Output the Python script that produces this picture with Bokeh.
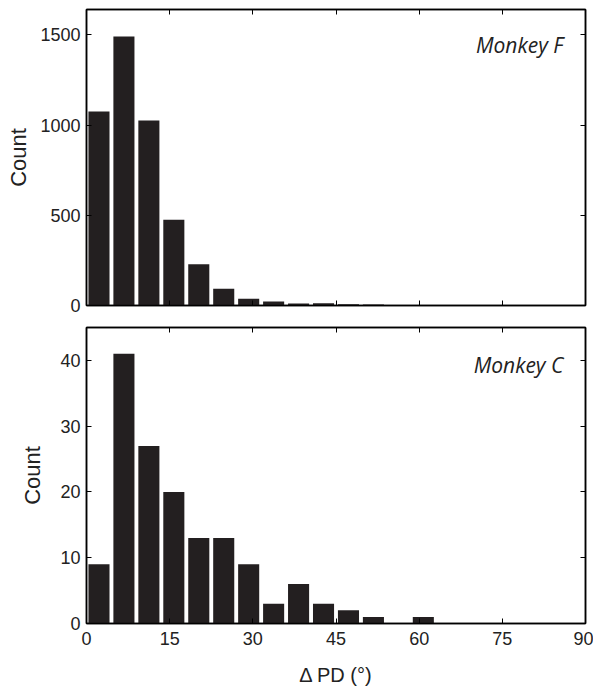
from bokeh.plotting import figure
from bokeh.layouts import column
from bokeh.models import LinearAxis, FixedTicker, Range1d, Label
from bokeh.embed import file_html
from bokeh.resources import INLINE

# Data: 20 bins of 4.5 degrees over 0-90
bin_width = 4.5
bin_centers = [2.25 + i * bin_width for i in range(20)]
monkey_f_counts = [1075, 1490, 1025, 475, 228, 93, 38, 22, 11, 13, 7, 5, 3, 1, 2, 0, 0, 0, 0, 0]
monkey_c_counts = [9, 41, 27, 20, 13, 13, 9, 3, 6, 3, 2, 1, 0, 1, 0, 0, 0, 0, 0, 0]
x_ticks = [0, 15, 30, 45, 60, 75, 90]
f_yticks = [0, 500, 1000, 1500]
c_yticks = [0, 10, 20, 30, 40]

BAR = "#231f20"
FONT = "Liberation Sans"
TXT = "#222222"


def style_axis(ax, ticks, show_labels):
    ax.axis_line_color = "black"
    ax.axis_line_width = 1.5
    ax.major_tick_in = 5
    ax.major_tick_out = 0
    ax.minor_tick_line_color = None
    ax.major_tick_line_color = "black"
    ax.major_tick_line_width = 1
    ax.major_label_text_font = FONT
    ax.major_label_text_color = TXT
    ax.major_label_text_font_size = "18px"
    if not show_labels:
        ax.major_label_overrides = {t: "" for t in ticks}
        ax.major_label_standoff = 0


def make_panel(counts, yticks, ymax, name, label_y, height, top, bottom, show_x, count_standoff):
    p = figure(width=593, height=height, output_backend="svg", toolbar_location=None,
               x_range=Range1d(0, 90), y_range=Range1d(0, ymax),
               min_border_left=86, min_border_right=8, min_border_top=top,
               min_border_bottom=bottom)
    p.xgrid.visible = False
    p.ygrid.visible = False
    p.outline_line_color = "black"
    p.outline_line_width = 1.5
    p.background_fill_color = "white"
    p.border_fill_color = "white"

    p.vbar(x=bin_centers, top=counts, width=3.8, bottom=0,
           fill_color=BAR, line_color=None)

    p.xaxis.ticker = FixedTicker(ticks=x_ticks)
    p.yaxis.ticker = FixedTicker(ticks=yticks)
    style_axis(p.xaxis[0], x_ticks, show_x)
    style_axis(p.yaxis[0], yticks, True)
    p.yaxis.major_label_standoff = 6
    p.yaxis.axis_label = "Count"
    p.yaxis.axis_label_text_font = FONT
    p.yaxis.axis_label_text_font_style = "normal"
    p.yaxis.axis_label_text_font_size = "22px"
    p.yaxis.axis_label_text_color = TXT
    p.yaxis.axis_label_standoff = count_standoff
    if show_x:
        p.xaxis.major_label_standoff = 8
        p.xaxis.axis_label = "\u0394 PD (\u00b0)"
        p.xaxis.axis_label_text_font = FONT
        p.xaxis.axis_label_text_font_style = "normal"
        p.xaxis.axis_label_text_font_size = "20px"
        p.xaxis.axis_label_text_color = TXT
        p.xaxis.axis_label_standoff = 16

    top_ax = LinearAxis(ticker=FixedTicker(ticks=x_ticks))
    style_axis(top_ax, x_ticks, False)
    p.add_layout(top_ax, "above")
    right_ax = LinearAxis(ticker=FixedTicker(ticks=yticks))
    style_axis(right_ax, yticks, False)
    p.add_layout(right_ax, "right")

    p.add_layout(Label(x=86, y=label_y, text=name, text_align="right",
                       text_baseline="alphabetic", text_font="Open Sans",
                       text_font_style="italic", text_font_size="21px",
                       text_color=TXT))
    return p


p1 = make_panel(monkey_f_counts, f_yticks, 1640, "Monkey F", 1444, 315, 9, 10, False, 6)
p2 = make_panel(monkey_c_counts, c_yticks, 45, "Monkey C", 39.3, 377, 12, 69, True, 12)

layout = column(p1, p2, spacing=0)
open("out.html", "w").write(file_html(layout, INLINE))
